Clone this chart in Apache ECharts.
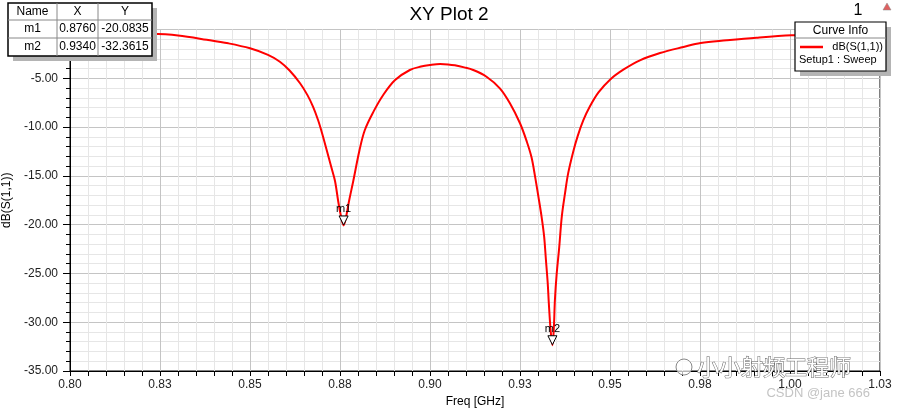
<!DOCTYPE html>
<html>
<head>
<meta charset="utf-8">
<script src="https://cdn.jsdelivr.net/npm/echarts@6/dist/echarts.min.js"></script>
<style>
  html, body { margin: 0; padding: 0; background: #fff; }
  #main { width: 898px; height: 409px; }
</style>
</head>
<body>
<div id="main"></div>
<script>
// frequency sweep [GHz] and dB(S(1,1))
var freq = [0.800, 0.810, 0.8222, 0.830, 0.838, 0.844, 0.850, 0.855, 0.8583, 0.8610,
  0.8639, 0.8660, 0.8675, 0.8689, 0.8700, 0.8713, 0.8725, 0.8736, 0.8745, 0.8752,
  0.8760, 0.8768, 0.8775, 0.8787, 0.8804, 0.8819, 0.8843, 0.8870, 0.8903, 0.8944,
  0.8975, 0.9000, 0.9028, 0.9050, 0.9069, 0.9095, 0.9120, 0.9157, 0.9194, 0.9222,
  0.9250, 0.9269, 0.9282, 0.9292, 0.9301, 0.9310, 0.9317, 0.9322, 0.9327, 0.9330,
  0.9335, 0.9340, 0.9344, 0.9347, 0.9352, 0.9359, 0.9366, 0.9375, 0.9384, 0.9398,
  0.9410, 0.9426, 0.9444, 0.9468, 0.9500, 0.9537, 0.9583, 0.9639, 0.9704, 0.9752,
  0.9824, 0.9907, 1.0005, 1.0100, 1.0250];
var s11 = [-0.25, -0.30, -0.42, -0.62, -1.05, -1.42, -1.93, -2.60, -3.30, -4.20,
  -5.51, -6.75, -7.91, -9.28, -10.60, -12.35, -14.00, -15.50, -17.60, -19.00,
  -20.08, -19.00, -17.60, -15.50, -12.40, -10.30, -8.42, -6.71, -5.18, -4.15,
  -3.80, -3.64, -3.54, -3.58, -3.67, -3.88, -4.15, -4.84, -6.03, -7.56,
  -9.61, -11.50, -13.10, -15.10, -17.10, -19.20, -21.20, -23.60, -26.00, -28.00,
  -30.80, -32.36, -30.60, -27.70, -25.00, -22.30, -19.20, -16.80, -14.70, -12.50,
  -10.95, -9.30, -7.90, -6.45, -5.14, -4.12, -3.16, -2.41, -1.79, -1.38,
  -1.11, -0.84, -0.60, -0.52, -0.42];

// x tick labels as the plot shows them (0.025 steps rounded to 2 digits)
var xTickLabels = ['0.80', '0.83', '0.85', '0.88', '0.90', '0.93', '0.95', '0.98', '1.00', '1.03'];

// markers
var markerNames = ['m1', 'm2'];
var markerX = [0.8760, 0.9340];
var markerY = [-20.0835, -32.3615];

var fontFam = '"Liberation Sans", Arial, sans-serif';

var lineData = freq.map(function (f, i) { return [f, s11[i]]; });

// marker table (top left)
var tbl = [];
var colX = [8, 57, 98, 152];
var rowY = [3, 20, 38, 56];
tbl.push({ type: 'rect', shape: { x: 13, y: 8, width: 144, height: 53 }, style: { fill: '#b4b4b4' }, z: 100 });
tbl.push({ type: 'rect', shape: { x: 8, y: 3, width: 144, height: 53 }, style: { fill: '#fff', stroke: '#000', lineWidth: 1.5 }, z: 101 });
[20, 38].forEach(function (y) {
  tbl.push({ type: 'line', shape: { x1: 8, y1: y, x2: 152, y2: y }, style: { stroke: '#888', lineWidth: 1 }, z: 102 });
});
[57, 98].forEach(function (x) {
  tbl.push({ type: 'line', shape: { x1: x, y1: 3, x2: x, y2: 56 }, style: { stroke: '#888', lineWidth: 1 }, z: 102 });
});
var rows = [['Name', 'X', 'Y']];
markerNames.forEach(function (n, i) {
  rows.push([n, markerX[i].toFixed(4), markerY[i].toFixed(4)]);
});
rows.forEach(function (r, ri) {
  r.forEach(function (txt, ci) {
    tbl.push({
      type: 'text', z: 103,
      x: (colX[ci] + colX[ci + 1]) / 2, y: (rowY[ri] + rowY[ri + 1]) / 2,
      style: { text: txt, fill: '#000', font: '12px ' + fontFam, align: 'center', verticalAlign: 'middle' }
    });
  });
});

// curve info box (top right)
var info = [
  { type: 'rect', shape: { x: 800, y: 27, width: 91, height: 49 }, style: { fill: '#b4b4b4' }, z: 100 },
  { type: 'rect', shape: { x: 795, y: 22, width: 91, height: 49 }, style: { fill: '#fff', stroke: '#000', lineWidth: 1.2 }, z: 101 },
  { type: 'line', shape: { x1: 795, y1: 38, x2: 886, y2: 38 }, style: { stroke: '#888', lineWidth: 1 }, z: 102 },
  { type: 'text', x: 840.5, y: 30.5, z: 103, style: { text: 'Curve Info', fill: '#000', font: '12px ' + fontFam, align: 'center', verticalAlign: 'middle' } },
  { type: 'line', shape: { x1: 800, y1: 47, x2: 823, y2: 47 }, style: { stroke: '#ff0000', lineWidth: 2.5 }, z: 103 },
  { type: 'text', x: 883, y: 47, z: 103, style: { text: 'dB(S(1,1))', fill: '#000', font: '11px ' + fontFam, align: 'right', verticalAlign: 'middle' } },
  { type: 'text', x: 799, y: 60, z: 103, style: { text: 'Setup1 : Sweep', fill: '#000', font: '11px ' + fontFam, align: 'left', verticalAlign: 'middle' } }
];

var extras = [
  { type: 'text', x: 858, y: 11, z: 103, style: { text: '1', fill: '#000', font: '16px ' + fontFam, align: 'center', verticalAlign: 'middle' } },
  { type: 'polygon', shape: { points: [[883, 10], [887, 3], [891, 10]] }, style: { fill: '#e06060', stroke: '#888', lineWidth: 0.5 }, z: 103 },
  // watermark
  { type: 'circle', shape: { cx: 684, cy: 367, r: 8 }, style: { fill: 'rgba(255,255,255,0.7)', stroke: '#888', lineWidth: 1 }, z: 104 },
  { type: 'text', x: 697, y: 367, z: 104, style: { text: '小小射频工程师', fill: '#fff', stroke: '#666', lineWidth: 1, font: '22px "Noto Sans CJK SC", sans-serif', align: 'left', verticalAlign: 'middle' } },
  { type: 'text', x: 870, y: 393, z: 104, style: { text: 'CSDN @jane 666', fill: '#c4c4c4', font: '13px ' + fontFam, align: 'right', verticalAlign: 'middle' } }
];

var chart = echarts.init(document.getElementById('main'));
chart.setOption({
  animation: false,
  backgroundColor: '#fff',
  title: {
    text: 'XY Plot 2',
    left: 'center',
    top: 0,
    textStyle: { fontFamily: fontFam, fontSize: 19, fontWeight: 'normal', color: '#000' }
  },
  grid: {
    left: 70, right: 18, top: 29.5, bottom: 38,
    outerBoundsMode: 'none',
    containLabel: false,
    show: true, borderColor: '#000', borderWidth: 1, backgroundColor: '#fff'
  },
  xAxis: {
    type: 'value',
    min: 0.8, max: 1.025, interval: 0.025,
    name: 'Freq [GHz]',
    nameLocation: 'middle',
    nameGap: 25,
    nameTextStyle: { fontFamily: fontFam, fontSize: 12, color: '#000' },
    axisLine: { show: true, onZero: false, lineStyle: { color: '#000', width: 1 } },
    axisTick: { show: true, length: 5, lineStyle: { color: '#000' } },
    minorTick: { show: true, splitNumber: 5, length: 5, lineStyle: { color: '#000' } },
    axisLabel: {
      margin: 8, fontFamily: fontFam, fontSize: 12, color: '#222',
      formatter: function (v) {
        var i = Math.round((v - 0.8) / 0.025);
        return xTickLabels[i] || '';
      }
    },
    splitLine: { show: true, lineStyle: { color: '#c4c4c4', width: 1 } },
    minorSplitLine: { show: true, lineStyle: { color: '#e6e6e6', width: 1 } }
  },
  yAxis: {
    type: 'value',
    min: -35, max: 0, interval: 5,
    name: 'dB(S(1,1))',
    nameLocation: 'middle',
    nameGap: 52,
    nameTextStyle: { fontFamily: fontFam, fontSize: 12, color: '#000' },
    axisLine: { show: true, lineStyle: { color: '#000', width: 1 } },
    axisTick: { show: true, length: 7, lineStyle: { color: '#000' } },
    minorTick: { show: true, splitNumber: 5, length: 4, lineStyle: { color: '#000' } },
    axisLabel: {
      margin: 12, fontFamily: fontFam, fontSize: 12, color: '#222',
      formatter: function (v) { return v.toFixed(2); }
    },
    splitLine: { show: true, lineStyle: { color: '#c4c4c4', width: 1 } },
    minorSplitLine: { show: true, lineStyle: { color: '#e6e6e6', width: 1 } }
  },
  series: [{
    name: 'dB(S(1,1))',
    type: 'line',
    data: lineData,
    smooth: 0.35,
    showSymbol: false,
    lineStyle: { color: '#ff0000', width: 2 },
    markPoint: {
      symbol: 'triangle',
      symbolRotate: 180,
      symbolSize: [9, 9],
      symbolOffset: [0, -5],
      itemStyle: { color: '#fff', borderColor: '#000', borderWidth: 1 },
      label: {
        show: true, position: 'top', distance: 1,
        formatter: '{b}', color: '#000', fontFamily: fontFam, fontSize: 11
      },
      data: markerNames.map(function (n, i) {
        return { name: n, coord: [markerX[i], markerY[i]] };
      })
    }
  }],
  graphic: tbl.concat(info, extras)
});
</script>
</body>
</html>
